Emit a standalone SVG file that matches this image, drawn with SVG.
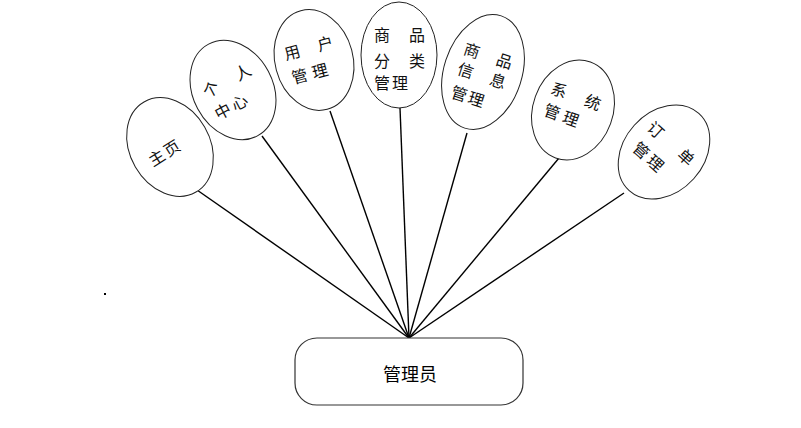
<svg xmlns="http://www.w3.org/2000/svg" width="801" height="428" viewBox="0 0 801 428">
<style>
.el{fill:#fff;stroke:#222;stroke-width:1}
.t{font-family:"Noto Sans CJK SC","Noto Sans",sans-serif;font-size:16px;fill:#111;dominant-baseline:central;text-anchor:middle}
.con line{stroke:#000;stroke-width:1.4}
.box{fill:#fff;stroke:#333;stroke-width:1.2}
.bt{font-family:"Noto Sans CJK SC","Noto Sans",sans-serif;font-size:18px;fill:#000;dominant-baseline:central;text-anchor:middle}
</style>
<rect width="801" height="428" fill="#fff"/>
<g id="connectors" class="con">
<line x1="197" y1="190" x2="409" y2="338"/>
<line x1="262" y1="136" x2="409" y2="338"/>
<line x1="330" y1="111" x2="409" y2="338"/>
<line x1="400" y1="108" x2="409" y2="338"/>
<line x1="467" y1="133" x2="409" y2="338"/>
<line x1="559" y1="158" x2="409" y2="338"/>
<line x1="624" y1="193" x2="409" y2="338"/>
</g>
<g id="n1" transform="translate(170,147) rotate(-32)">
<ellipse class="el" rx="40" ry="52" transform="rotate(2)"/>
<text class="t"><tspan x="-17" y="1">主</tspan><tspan x="1" y="1">页</tspan></text>
</g>
<g id="n2" transform="translate(233,90) rotate(-28)">
<ellipse class="el" rx="40" ry="52"/>
<text class="t"><tspan x="-19" y="-12">个</tspan><tspan x="17" y="-12">人</tspan><tspan x="-19" y="13">中</tspan><tspan x="0" y="13">心</tspan></text>
</g>
<g id="n3" transform="translate(314,60) rotate(-15)">
<ellipse class="el" rx="39" ry="51"/>
<text class="t"><tspan x="-19" y="-14">用</tspan><tspan x="15" y="-14">户</tspan><tspan x="-18" y="11">管</tspan><tspan x="3" y="11">理</tspan></text>
</g>
<g id="n4" transform="translate(399,55)">
<ellipse class="el" rx="38" ry="53"/>
<text class="t"><tspan x="-17" y="-21">商</tspan><tspan x="18" y="-21">品</tspan><tspan x="-17" y="5">分</tspan><tspan x="18" y="5">类</tspan><tspan x="-17" y="27">管</tspan><tspan x="1" y="27">理</tspan></text>
</g>
<g id="n5" transform="translate(483,72) rotate(18)">
<ellipse class="el" rx="39" ry="59"/>
<text class="t"><tspan x="-17" y="-18">商</tspan><tspan x="17" y="-18">品</tspan><tspan x="-17" y="3">信</tspan><tspan x="17" y="3">息</tspan><tspan x="-16" y="27">管</tspan><tspan x="2" y="27">理</tspan></text>
</g>
<g id="n6" transform="translate(573,110) rotate(20)">
<ellipse class="el" rx="40" ry="51"/>
<text class="t"><tspan x="-20" y="-15">系</tspan><tspan x="16" y="-15">统</tspan><tspan x="-19" y="8">管</tspan><tspan x="1" y="8">理</tspan></text>
</g>
<g id="n7" transform="translate(664,152) rotate(42)">
<ellipse class="el" rx="40" ry="52"/>
<text class="t"><tspan x="-21" y="-12">订</tspan><tspan x="20" y="-12">单</tspan><tspan x="-18" y="13">管</tspan><tspan x="1" y="13">理</tspan></text>
</g>
<g id="admin">
<rect class="box" x="295" y="338" width="228" height="67" rx="22" ry="22"/>
<text class="bt" x="410" y="373">管理员</text>
</g>
<rect x="104" y="293" width="2" height="2" fill="#000"/>
</svg>
